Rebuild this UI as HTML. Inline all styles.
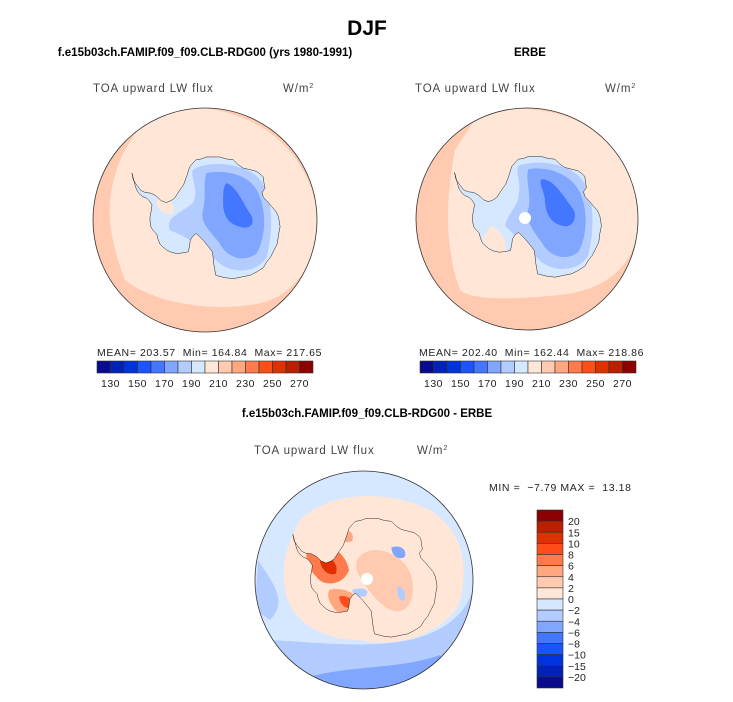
<!DOCTYPE html>
<html><head><meta charset="utf-8">
<style>
body{margin:0;background:#fff;font-family:"Liberation Sans",sans-serif;}
svg text{font-family:"Liberation Sans",sans-serif;}
</style></head>
<body>
<svg id="fig" width="733" height="697" viewBox="0 0 733 697">
<defs>
<path id="land" d="M218,310 L222,330 L232,345 L245,362 L258,368 L275,370 L290,378 L305,392 L320,398 L335,392 L345,385 L360,362 L372,345 L382,318 L390,292 L400,280 L410,270 L425,268 L440,262 L460,262 L480,262 L500,268 L520,270 L535,285 L550,295 L570,300 L590,305 L603,315 L610,322 L612,340 L615,355 L606,368 L610,382 L625,398 L635,410 L648,425 L655,440 L660,470 L655,495 L652,520 L642,540 L632,560 L620,575 L610,592 L590,605 L570,615 L545,620 L520,625 L495,622 L468,615 L465,598 L462,580 L460,560 L458,545 L445,528 L432,512 L420,500 L410,490 L400,498 L392,510 L390,528 L386,545 L370,548 L352,550 L335,546 L322,540 L310,530 L302,522 L296,508 L292,492 L282,482 L275,472 L272,455 L272,440 L276,420 L278,405 L270,393 L262,385 L250,380 L240,372 L232,360 L228,348 Z"/>
<clipPath id="clipLand"><use href="#land"/></clipPath>
<clipPath id="cTL"><circle cx="205" cy="220" r="112"/></clipPath>
<clipPath id="cTR"><circle cx="527" cy="219" r="111"/></clipPath>
<clipPath id="cB"><circle cx="364" cy="580" r="109"/></clipPath>
</defs>
<text x="367" y="35" text-anchor="middle" font-size="21" font-weight="bold">DJF</text>
<text x="205" y="56" text-anchor="middle" font-size="11.5" font-weight="bold">f.e15b03ch.FAMIP.f09_f09.CLB-RDG00 (yrs 1980-1991)</text>
<text x="530" y="56" text-anchor="middle" font-size="11.5" font-weight="bold">ERBE</text>
<text x="367" y="417" text-anchor="middle" font-size="11.5" font-weight="bold">f.e15b03ch.FAMIP.f09_f09.CLB-RDG00 - ERBE</text>

<g fill="#444" font-size="11.5" letter-spacing="0.9">
<text x="93" y="92">TOA upward LW flux</text>
<text x="283" y="92">W/m<tspan dy="-4" font-size="7">2</tspan></text>
<text x="415" y="92">TOA upward LW flux</text>
<text x="605" y="92">W/m<tspan dy="-4" font-size="7">2</tspan></text>
<text x="254" y="454">TOA upward LW flux</text>
<text x="417" y="454">W/m<tspan dy="-4" font-size="7">2</tspan></text>
</g>
<g fill="#222" font-size="10.5" letter-spacing="0.6">
<text x="97" y="356" xml:space="preserve">MEAN= 203.57  Min= 164.84  Max= 217.65</text>
<text x="419" y="356" xml:space="preserve">MEAN= 202.40  Min= 162.44  Max= 218.86</text>
<text x="489" y="491" xml:space="preserve">MIN =  −7.79 MAX =  13.18</text>
</g>

<!-- Top-left map -->
<g>
<g clip-path="url(#cTL)">
<rect x="90" y="105" width="230" height="230" fill="#ffcab0"/>
<path d="M150,110 C200,100 290,110 315,200 C325,250 300,300 250,305 C200,312 150,300 125,280 C110,240 100,200 125,150 Z" fill="#ffe6d6"/>
<g transform="translate(205,220) scale(0.3353) translate(-436,-450)">
<g clip-path="url(#clipLand)">
<rect x="200" y="250" width="480" height="390" fill="#d6e8ff"/>
<path d="M400,300 C450,270 560,280 600,330 C640,380 640,480 620,560 C590,610 520,610 480,580 C430,530 380,500 330,480 C320,440 360,430 400,400 C420,360 390,320 400,300Z" fill="#b3ccff"/>
<path d="M440,310 C490,300 560,310 590,360 C620,410 620,500 590,550 C550,580 500,560 480,520 C450,480 420,460 430,420 C440,380 430,340 440,310Z" fill="#80a6ff"/>
<path d="M500,340 C530,350 550,400 570,430 C590,460 570,480 540,470 C500,460 490,430 490,400 C490,370 490,350 500,340Z" fill="#4477ff"/>
<path d="M300,380 C330,390 350,400 340,430 C320,440 300,420 290,400Z" fill="#ffe6d6"/>
</g>
<use href="#land" fill="none" stroke="#000" stroke-width="1.3" vector-effect="non-scaling-stroke"/>
</g>
</g>
<circle cx="205" cy="220" r="112" fill="none" stroke="#333" stroke-width="0.8"/>
</g>

<!-- Top-right map -->
<g>
<g clip-path="url(#cTR)">
<rect x="410" y="105" width="235" height="230" fill="#ffcab0"/>
<path d="M480,112 C550,100 620,120 640,200 C645,260 610,290 560,295 C510,300 470,300 460,290 C445,250 445,200 455,150 Z" fill="#ffe6d6"/>
<g transform="translate(527,219) scale(0.3323) translate(-436,-450)">
<g clip-path="url(#clipLand)">
<rect x="200" y="250" width="480" height="390" fill="#d6e8ff"/>
<path d="M410,290 C460,270 560,280 600,330 C640,380 640,480 620,560 C590,610 520,610 480,580 C440,540 400,500 370,470 C380,430 410,410 410,380 C420,340 400,310 410,290Z" fill="#b3ccff"/>
<path d="M440,300 C490,290 560,310 590,360 C620,410 620,500 590,550 C550,580 500,560 480,520 C450,480 430,450 440,420 C450,380 430,330 440,300Z" fill="#80a6ff"/>
<path d="M480,330 C520,330 550,390 575,420 C590,450 570,480 540,470 C500,460 490,420 490,390 C485,360 470,340 480,330Z" fill="#4477ff"/>
<path d="M330,470 C360,490 380,520 370,550 C340,555 310,530 300,510Z" fill="#ffe6d6"/>
</g>
<use href="#land" fill="none" stroke="#000" stroke-width="1.3" vector-effect="non-scaling-stroke"/>
</g>
<circle cx="525" cy="218" r="6" fill="#fff"/>
</g>
<circle cx="527" cy="219" r="111" fill="none" stroke="#333" stroke-width="0.8"/>
</g>

<!-- Bottom diff map -->
<g>
<g clip-path="url(#cB)">
<rect x="250" y="465" width="230" height="230" fill="#d6e8ff"/>
<path d="M260,640 C300,640 360,650 410,640 C450,630 470,610 475,580 L480,700 L250,700Z" fill="#b3ccff"/>
<path d="M300,680 C340,665 400,670 440,655 L460,700 L290,700Z" fill="#80a6ff"/>
<path d="M258,560 C270,580 290,600 270,620 L255,610Z" fill="#b3ccff"/>
<path d="M300,520 C330,490 390,490 430,510 C460,530 470,560 460,600 C450,630 400,650 360,640 C320,640 290,620 285,590 C280,560 290,540 300,520Z" fill="#ffe6d6"/>
<g transform="translate(364,580) scale(0.3263) translate(-436,-450)">
<g clip-path="url(#clipLand)">
<rect x="200" y="250" width="480" height="390" fill="#ffe6d6"/>
<path d="M420,380 C460,340 520,360 560,400 C600,450 590,520 560,540 C520,560 480,520 450,480 C420,440 400,410 420,380Z" fill="#ffcab0"/>
<path d="M270,350 C320,330 380,360 390,420 C370,470 310,470 290,440 C260,410 250,370 270,350Z" fill="#ff7a4d"/>
<path d="M300,380 C330,370 360,400 350,430 C330,440 300,420 300,380Z" fill="#e03000"/>
<path d="M330,480 C370,470 420,490 430,530 C420,560 380,560 350,545 C330,520 320,500 330,480Z" fill="#ffa880"/>
<path d="M360,500 C390,495 410,515 400,535 C380,540 360,525 360,500Z" fill="#ff4d1a"/>
<path d="M350,300 C380,290 410,300 400,330 C380,340 350,330 350,300Z" fill="#ffa880"/>
<path d="M520,350 C550,340 570,360 560,380 C540,390 520,375 520,350Z" fill="#80a6ff"/>
<path d="M400,480 C430,470 460,480 440,500 C420,505 400,495 400,480Z" fill="#b3ccff"/>
<path d="M430,560 C450,560 460,600 450,620 C430,610 420,580 430,560Z" fill="#80a6ff"/>
<path d="M540,470 C560,470 570,500 555,515 C540,510 535,490 540,470Z" fill="#b3ccff"/>
<path d="M240,390 C250,380 270,390 265,410 C255,415 240,405 240,390Z" fill="#4477ff"/>
</g>
<use href="#land" fill="none" stroke="#000" stroke-width="1.3" vector-effect="non-scaling-stroke"/>
</g>
<circle cx="367" cy="579" r="6" fill="#fff"/>
</g>
<circle cx="364" cy="580" r="109" fill="none" stroke="#333" stroke-width="0.8"/>
</g>

<g id="cbars"></g>
</svg>
<script>
const absColors = ["#0a0a8c","#0022b5","#0033e0","#1a53ff","#4477ff","#80a6ff","#b3ccff","#d6e8ff","#ffe6d6","#ffcab0","#ffa880","#ff7a4d","#ff4d1a","#e03000","#b82000","#8b0000"];
const absTicks = ["130","150","170","190","210","230","250","270"];
const diffColors = ["#8b0000","#b82000","#e03000","#ff4d1a","#ff7a4d","#ffa880","#ffcab0","#ffe6d6","#d6e8ff","#b3ccff","#80a6ff","#4477ff","#1a53ff","#0033e0","#0022b5","#0a0a8c"];
const diffTicks = ["20","15","10","8","6","4","2","0","−2","−4","−6","−8","−10","−15","−20"];
const NS="http://www.w3.org/2000/svg";
const g=document.getElementById('cbars');
function hbar(x0,w,y){
  const bw=w/absColors.length;
  absColors.forEach((c,i)=>{
    const r=document.createElementNS(NS,'rect');
    r.setAttribute('x',x0+i*bw);r.setAttribute('y',y);r.setAttribute('width',bw);r.setAttribute('height',12);
    r.setAttribute('fill',c);r.setAttribute('stroke','#333');r.setAttribute('stroke-width','0.6');
    
    
    g.appendChild(r);
  });
  absTicks.forEach((t,i)=>{
    const tx=document.createElementNS(NS,'text');
    tx.setAttribute('x',x0+(2*i+1)*bw);tx.setAttribute('y',y+26);
    tx.setAttribute('text-anchor','middle');tx.setAttribute('font-size','10.5');tx.setAttribute('fill','#222');
    tx.setAttribute('letter-spacing','0.5');
    tx.textContent=t;
    
    
    g.appendChild(tx);
  });
}
hbar(97,216,361);
hbar(420,216,361);
const vx=537,vy=510,vh=178,bh=vh/diffColors.length;
diffColors.forEach((c,i)=>{
  const r=document.createElementNS(NS,'rect');
  r.setAttribute('x',vx);r.setAttribute('y',vy+i*bh);r.setAttribute('width',26);r.setAttribute('height',bh);
  r.setAttribute('fill',c);r.setAttribute('stroke','#333');r.setAttribute('stroke-width','0.6');
  
  
  g.appendChild(r);
});
diffTicks.forEach((t,i)=>{
  const tx=document.createElementNS(NS,'text');
  tx.setAttribute('x',568);tx.setAttribute('y',vy+(i+1)*bh+4);
  tx.setAttribute('font-size','10.5');tx.setAttribute('fill','#222');
  tx.textContent=t;
  
  
  g.appendChild(tx);
});
</script>
</body></html>
